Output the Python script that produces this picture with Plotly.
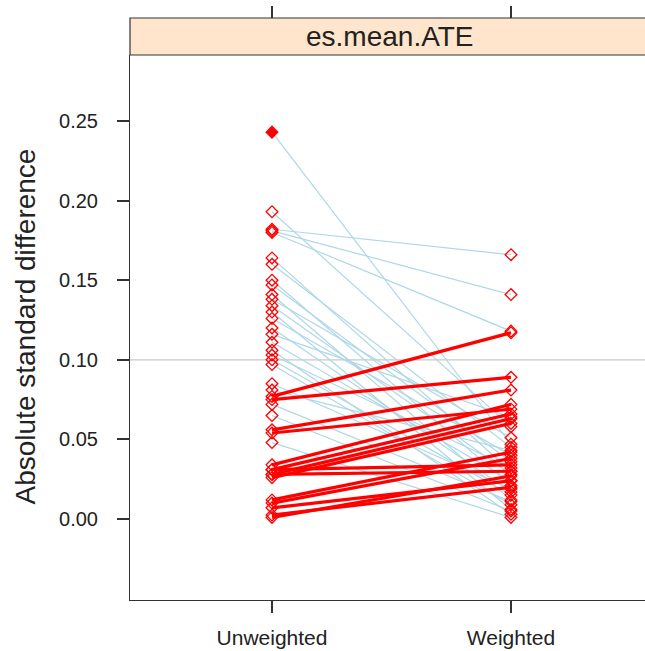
import plotly.graph_objects as go

# ---- data ----
categories = ["Unweighted", "Weighted"]
unweighted = [0.243, 0.193, 0.182, 0.181, 0.180, 0.164, 0.160, 0.150, 0.147, 0.141,
              0.138, 0.134, 0.130, 0.126, 0.120, 0.116, 0.111, 0.106, 0.103, 0.100,
              0.097, 0.085, 0.081, 0.072, 0.065, 0.048,
              0.077, 0.075, 0.056, 0.054, 0.034, 0.031, 0.028, 0.026, 0.031, 0.028,
              0.012, 0.010, 0.007, 0.0025, 0.001]
weighted = [0.047, 0.058, 0.166, 0.141, 0.118, 0.030, 0.045, 0.021, 0.036, 0.012,
            0.051, 0.028, 0.006, 0.040, 0.017, 0.064, 0.024, 0.003, 0.032, 0.015,
            0.009, 0.019, 0.043, 0.011, 0.005, 0.001,
            0.117, 0.089, 0.081, 0.069, 0.072, 0.066, 0.063, 0.060, 0.034, 0.030,
            0.042, 0.038, 0.024, 0.020, 0.027]
significant_unw = [True] + [False] * (len(unweighted) - 1)
significant_w = [False] * len(weighted)
y_ticks = [0.00, 0.05, 0.10, 0.15, 0.20, 0.25]
y_tick_labels = ["0.00", "0.05", "0.10", "0.15", "0.20", "0.25"]
strip_label = "es.mean.ATE"
y_title = "Absolute standard difference"

BLUE = "#ADD8E6"
RED = "#FF0000"
TXT = "#222222"
AX = "#333333"

fig = go.Figure()

# lines: blue (decreased) first, red (increased) on top
for up, color, width in [(False, BLUE, 1.2), (True, RED, 3.2)]:
    xs, ys = [], []
    for u, w in zip(unweighted, weighted):
        if (w > u) == up:
            xs += [1, 2, None]
            ys += [u, w, None]
    fig.add_trace(go.Scatter(x=xs, y=ys, mode="lines",
                             line=dict(color=color, width=width),
                             hoverinfo="skip", showlegend=False))

# markers
mx = [1] * len(unweighted) + [2] * len(weighted)
my = unweighted + weighted
sig = significant_unw + significant_w
fig.add_trace(go.Scatter(
    x=mx, y=my, mode="markers", showlegend=False,
    marker=dict(symbol=["diamond" if s else "diamond-open" for s in sig],
                size=9, color=RED, line=dict(color=RED, width=1.3))))

W, H = 645, 651
L, R, T, B = 130, 0, 18, 51
plot_h = H - T - B
dom_top = (600 - 55) / plot_h

xr = [1 - 142 / 239, 1 + (W - 272) / 239]
yr = [-(600 - 519) / 1592, (519 - 55) / 1592]

fig.update_layout(
    width=W, height=H,
    margin=dict(l=L, r=R, t=T, b=B),
    paper_bgcolor="white", plot_bgcolor="white",
    font=dict(family="Liberation Sans, Arial, sans-serif", color=TXT),
    xaxis=dict(range=xr, tickvals=[1, 2], ticktext=categories,
               showgrid=False, zeroline=False, showline=True, linecolor=AX, linewidth=1,
               ticks="outside", ticklen=12, tickwidth=1.5, tickcolor=AX,
               tickfont=dict(size=21, color=TXT), ticklabelstandoff=7),
    xaxis2=dict(range=xr, tickvals=[1, 2], overlaying="x", side="top", anchor="free",
                position=1, showticklabels=False, showgrid=False, zeroline=False,
                ticks="outside", ticklen=12, tickwidth=1.5, tickcolor=AX),
    yaxis=dict(range=yr, domain=[0, dom_top], tickvals=y_ticks, ticktext=y_tick_labels,
               showgrid=False, zeroline=False, showline=True, linecolor=AX, linewidth=1,
               ticks="outside", ticklen=12, tickwidth=1.5, tickcolor=AX,
               tickfont=dict(size=20, color=TXT), ticklabelstandoff=15),
)

# dummy trace to activate xaxis2
fig.add_trace(go.Scatter(x=[None], y=[None], xaxis="x2", showlegend=False, hoverinfo="skip"))

# reference line at 0.10
fig.add_shape(type="line", xref="paper", x0=0, x1=1, yref="y", y0=0.10, y1=0.10,
              line=dict(color="#C8C8C8", width=1.2), layer="below")

# strip
fig.add_shape(type="rect", xref="paper", x0=0, x1=1.01, yref="paper", y0=dom_top, y1=1,
              fillcolor="#FFE5CC", line=dict(color=AX, width=1.2), layer="above")
fig.add_annotation(text=strip_label, xref="paper", yref="paper",
                   x=(390 - L) / (W - L - R), y=(dom_top + 1) / 2,
                   xanchor="center", yanchor="middle", showarrow=False,
                   font=dict(size=28, color=TXT))

# y title
fig.add_annotation(text=y_title, xref="paper", yref="paper",
                   x=(25 - L) / (W - L - R), y=(600 - 326.5) / plot_h,
                   xanchor="center", yanchor="middle", textangle=-90, showarrow=False,
                   font=dict(size=28, color=TXT))

fig.write_html("out.html")
